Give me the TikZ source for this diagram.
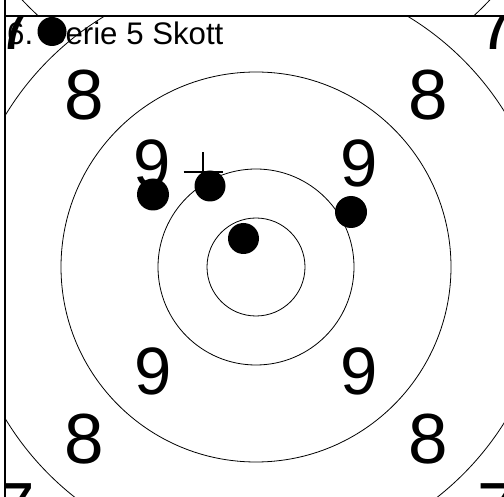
\documentclass[tikz,border=0pt]{standalone}
\usepackage{fontspec}
\setmainfont{Liberation Sans}
\begin{document}
\begin{tikzpicture}[x=1pt,y=-1pt,
  ring/.style={line width=0.8pt},
  frameline/.style={line width=1.3pt},
  shot/.style={circle,fill=black,inner sep=0pt,minimum size=31pt},
  bignum/.style={inner sep=0pt,font=\fontsize{71}{71}\selectfont},
  midnum/.style={inner sep=0pt,font=\fontsize{67}{67}\selectfont}]
\useasboundingbox (0,0) rectangle (504,497);
% remains of the previous target above
\begin{scope}
\clip (5,0) rectangle (504,16);
\draw[ring] (256,-220) circle[radius=321pt];
\end{scope}
\begin{scope}
\clip (5,16) rectangle (504,497);
\coordinate (c) at (256,267);
\draw[ring] (c) circle[radius=49pt];
\draw[ring] (c) circle[radius=98pt];
\draw[ring] (c) circle[radius=195pt];
\draw[ring] (c) circle[radius=293pt];
% ring numbers
\node[bignum] (n7a) at (15,25.5) {7};
\node[bignum] (n7b) at (497,25.5) {7};
\node[bignum] (n7c) at (15,508.5) {7};
\node[bignum] (n7d) at (497,508.5) {7};
\node[bignum] (n8a) at (84,95) {8};
\node[bignum] (n8b) at (428,95) {8};
\node[bignum] (n8c) at (84,439) {8};
\node[bignum] (n8d) at (428,439) {8};
\node[midnum] (n9a) at (152,163.5) {9};
\node[midnum] (n9b) at (359,163.5) {9};
\node[midnum] (n9c) at (153,371) {9};
\node[midnum] (n9d) at (359,371) {9};
% title
\node[anchor=base west,inner sep=0pt,font=\fontsize{31.2}{31.2}\selectfont] (title) at (7,45) {6. Serie 5 Skott};
% cross mark
\coordinate (pc) at (203,172);
\draw[line width=1.5pt] ([xshift=-19.5pt]pc) -- ([xshift=19.5pt]pc);
\draw[line width=1.5pt] ([yshift=-19.5pt]pc) -- ([yshift=19.5pt]pc);
% shots
\node[shot,minimum size=29pt] (s0) at (52,31.5) {};
\node[shot,minimum size=32pt] (s1) at (153,194.5) {};
\node[shot] (s2) at (210,186) {};
\node[shot] (s3) at (243.5,238.5) {};
\node[shot,minimum size=32pt] (s4) at (351,212) {};
\end{scope}
% frame
\draw[frameline] (5,0) -- (5,497);
\draw[frameline] (5,16) -- (504,16);
\end{tikzpicture}
\end{document}
